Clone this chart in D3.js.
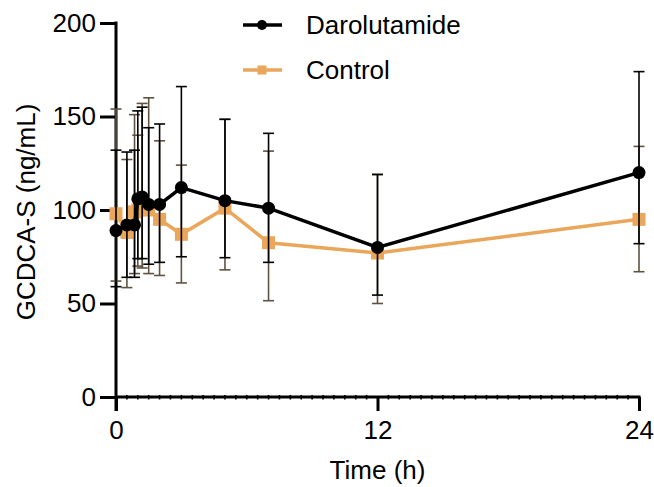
<!DOCTYPE html>
<meta charset="utf-8">
<script src="https://d3js.org/d3.v7.min.js"></script>
<style>
  body { margin: 0; background: #fff; }
  text { font-family: "Liberation Sans", Arial, sans-serif; fill: #000; }
</style>
<svg id="chart" width="654" height="487"></svg>
<script>

// sampling times (h)
const times = [0, 0.5, 0.85, 1, 1.2, 1.5, 2, 3, 5, 7, 12, 24];

// Darolutamide: mean and error bar limits
const daroMean = [89, 92, 92, 106, 107, 103, 103, 112, 105, 101, 80, 120];
const daroLow  = [59, 64, 64, 74, 74, 71, 72, 75, 74.5, 72, 54.5, 82];
const daroHigh = [132, 131, 132, 153, 155, 144, 146, 166, 148.5, 141, 119, 174];

// Control: mean and error bar limits
const ctrlMean = [98, 88, 99, 100, 101, 100, 95, 87, 101, 82.5, 77, 95];
const ctrlLow  = [62, 58.5, 66, 70, 69, 66, 65, 61, 68, 51.5, 50, 67];
const ctrlHigh = [154, 127, 151, 140, 157, 160, 137, 124, 148.5, 131.5, 119, 134];

const xTicks = [0, 12, 24];
const yTicks = [0, 50, 100, 150, 200];
const seriesNames = ["Darolutamide", "Control"];

const orange = "#eaa65a";
const ctrlBar = "#5f5240";

const svg = d3.select("#chart");

const x = d3.scaleLinear().domain([0, 24]).range([116, 639]);
const y = d3.scaleLinear().domain([0, 200]).range([397, 23]);

function rows(mean, low, high) {
  return times.map((t, i) => ({t: t, m: mean[i], lo: low[i], hi: high[i]}));
}
const daro = rows(daroMean, daroLow, daroHigh);
const ctrl = rows(ctrlMean, ctrlLow, ctrlHigh);

// minor ticks on x axis (every 0.5 h)
const minor = d3.range(0.5, 24, 0.5).filter(d => d % 12 !== 0);
svg.append("g")
  .selectAll("line")
  .data(minor)
  .join("line")
    .attr("x1", d => x(d)).attr("x2", d => x(d))
    .attr("y1", y(0) - 2).attr("y2", y(0) + 2.5)
    .attr("stroke", "#000")
    .attr("stroke-width", 1.6);

// axes
const yAxis = svg.append("g")
  .attr("transform", `translate(${x(0)},0)`)
  .call(d3.axisLeft(y).tickValues(yTicks).tickSize(16).tickPadding(4));
yAxis.select(".domain").remove();
yAxis.selectAll("line").attr("stroke-width", 3);
yAxis.selectAll("text").attr("font-size", 26).attr("font-family", "Liberation Sans, Arial, sans-serif");
svg.append("line")
  .attr("x1", x(0)).attr("x2", x(0))
  .attr("y1", y(200) - 1.5).attr("y2", y(0) + 14)
  .attr("stroke", "#000").attr("stroke-width", 3);

const xAxis = svg.append("g")
  .attr("transform", `translate(0,${y(0)})`)
  .call(d3.axisBottom(x).tickValues(xTicks).tickSize(14).tickPadding(10));
xAxis.select(".domain").remove();
xAxis.selectAll("line").attr("stroke-width", 3);
xAxis.selectAll("text").attr("font-size", 26).attr("font-family", "Liberation Sans, Arial, sans-serif");
svg.append("line")
  .attr("x1", x(0)).attr("x2", x(24) + 1.5)
  .attr("y1", y(0)).attr("y2", y(0))
  .attr("stroke", "#000").attr("stroke-width", 3);

// axis titles
svg.append("text")
  .attr("x", x(12)).attr("y", 479)
  .attr("text-anchor", "middle")
  .attr("font-size", 26)
  .text("Time (h)");
svg.append("text")
  .attr("transform", "translate(35,212) rotate(-90)")
  .attr("text-anchor", "middle")
  .attr("font-size", 26)
  .text("GCDCA-S (ng/mL)");

// error bars
function errorBars(data, color) {
  const g = svg.append("g").attr("stroke", color).attr("stroke-width", 1.6);
  g.selectAll(".v").data(data).join("line")
    .attr("x1", d => x(d.t)).attr("x2", d => x(d.t))
    .attr("y1", d => y(d.lo)).attr("y2", d => y(d.hi));
  g.selectAll(".hi").data(data).join("line")
    .attr("x1", d => x(d.t) - 5.5).attr("x2", d => x(d.t) + 5.5)
    .attr("y1", d => y(d.hi)).attr("y2", d => y(d.hi));
  g.selectAll(".lo").data(data).join("line")
    .attr("x1", d => x(d.t) - 5.5).attr("x2", d => x(d.t) + 5.5)
    .attr("y1", d => y(d.lo)).attr("y2", d => y(d.lo));
}

const line = d3.line().x(d => x(d.t)).y(d => y(d.m));

// control series
errorBars(ctrl, ctrlBar);
svg.append("path").datum(ctrl)
  .attr("d", line).attr("fill", "none")
  .attr("stroke", orange).attr("stroke-width", 3.5);
svg.append("g").selectAll("rect").data(ctrl).join("rect")
  .attr("x", d => x(d.t) - 6.5).attr("y", d => y(d.m) - 6.5)
  .attr("width", 13).attr("height", 13)
  .attr("fill", orange);

// darolutamide series
errorBars(daro, "#000");
svg.append("path").datum(daro)
  .attr("d", line).attr("fill", "none")
  .attr("stroke", "#000").attr("stroke-width", 3.5);
svg.append("g").selectAll("circle").data(daro).join("circle")
  .attr("cx", d => x(d.t)).attr("cy", d => y(d.m))
  .attr("r", 6.5).attr("fill", "#000");

// legend
const legend = svg.append("g");
const legY = [25, 70];
legend.selectAll("line").data(seriesNames).join("line")
  .attr("x1", 243).attr("x2", 282)
  .attr("y1", (d, i) => legY[i]).attr("y2", (d, i) => legY[i])
  .attr("stroke", (d, i) => i === 0 ? "#000" : orange)
  .attr("stroke-width", 3.5);
legend.append("circle").attr("cx", 262).attr("cy", legY[0]).attr("r", 5).attr("fill", "#000");
legend.append("rect").attr("x", 257.5).attr("y", legY[1] - 4.5).attr("width", 9).attr("height", 9).attr("fill", orange);
legend.selectAll("text").data(seriesNames).join("text")
  .attr("x", 306).attr("y", (d, i) => legY[i])
  .attr("dy", "0.35em")
  .attr("font-size", 26)
  .text(d => d);

</script>
